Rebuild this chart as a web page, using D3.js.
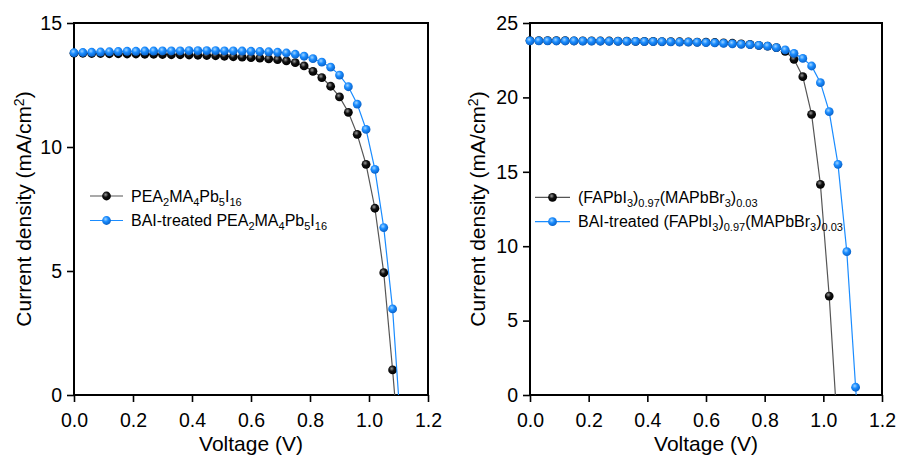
<!DOCTYPE html>
<meta charset="utf-8">
<head>
<style>
body { margin: 0; background: #fff; }
text { font-family: "Liberation Sans", Arial, sans-serif; fill: #000; }
.tick text { font-size: 19.5px; }
.axis-title { font-size: 21px; }
.legend text { font-size: 16px; }
</style>
</head>
<body>
<svg width="899" height="457"></svg>
<script src="https://d3js.org/d3.v7.min.js"></script>
<script>

// ---- left panel: PEA2MA4Pb5I16 ----
var voltLeft = [0, 0.03, 0.06, 0.09, 0.12, 0.15, 0.18, 0.21, 0.24, 0.27, 0.30, 0.33, 0.36, 0.39, 0.42, 0.45, 0.48, 0.51,
                0.54, 0.57, 0.60, 0.63, 0.66, 0.69, 0.72, 0.75, 0.78, 0.81, 0.84, 0.87, 0.90, 0.93, 0.96, 0.99, 1.02, 1.05, 1.08];
var jPea = [13.78, 13.78, 13.77, 13.77, 13.76, 13.76, 13.75, 13.75, 13.74, 13.74, 13.73, 13.72, 13.72, 13.71, 13.70, 13.69,
            13.68, 13.66, 13.64, 13.62, 13.60, 13.58, 13.55, 13.52, 13.47, 13.40, 13.27, 13.05, 12.80, 12.45, 12.02, 11.40,
            10.51, 9.30, 7.53, 4.93, 1.01];
var jPeaBai = [13.80, 13.81, 13.82, 13.83, 13.84, 13.85, 13.86, 13.86, 13.87, 13.87, 13.88, 13.88, 13.88, 13.89, 13.89, 13.89,
               13.89, 13.88, 13.88, 13.87, 13.86, 13.85, 13.84, 13.82, 13.79, 13.74, 13.66, 13.56, 13.42, 13.22, 12.90, 12.43,
               11.73, 10.71, 9.10, 6.75, 3.47];
var vocLeft = [1.087, 1.10];

// ---- right panel: (FAPbI3)0.97(MAPbBr3)0.03 ----
var voltRight = [0, 0.03, 0.06, 0.09, 0.12, 0.15, 0.18, 0.21, 0.24, 0.27, 0.30, 0.33, 0.36, 0.39, 0.42, 0.45, 0.48, 0.51,
                 0.54, 0.57, 0.60, 0.63, 0.66, 0.69, 0.72, 0.75, 0.78, 0.81, 0.84, 0.87, 0.90, 0.93, 0.96, 0.99, 1.02,
                 1.05, 1.08, 1.11];
var jFa = [23.82, 23.82, 23.81, 23.81, 23.81, 23.80, 23.80, 23.80, 23.79, 23.79, 23.78, 23.78, 23.77, 23.77, 23.76, 23.75,
           23.75, 23.74, 23.73, 23.72, 23.71, 23.69, 23.67, 23.64, 23.60, 23.56, 23.50, 23.45, 23.35, 23.10, 22.56, 21.39,
           18.86, 14.16, 6.65];
var jFaBai = [23.80, 23.80, 23.80, 23.79, 23.79, 23.79, 23.78, 23.78, 23.78, 23.77, 23.77, 23.76, 23.76, 23.75, 23.75, 23.74,
              23.73, 23.72, 23.71, 23.70, 23.68, 23.66, 23.63, 23.60, 23.57, 23.54, 23.50, 23.44, 23.35, 23.19, 22.96, 22.62,
              22.11, 20.99, 19.04, 15.50, 9.63, 0.52];
var vocRight = [1.041, 1.112];

var xTicks = [0, 0.2, 0.4, 0.6, 0.8, 1.0, 1.2];
var yTicksLeft = [0, 5, 10, 15];
var yTicksRight = [0, 5, 10, 15, 20, 25];

var legendLeft = [
  [["PEA"], ["2", "sub"], ["MA"], ["4", "sub"], ["Pb"], ["5", "sub"], ["I"], ["16", "sub"]],
  [["BAI-treated PEA"], ["2", "sub"], ["MA"], ["4", "sub"], ["Pb"], ["5", "sub"], ["I"], ["16", "sub"]]
];
var legendRight = [
  [["(FAPbI"], ["3", "sub"], [")"], ["0.97", "sub"], ["(MAPbBr"], ["3", "sub"], [")"], ["0.03", "sub"]],
  [["BAI-treated (FAPbI"], ["3", "sub"], [")"], ["0.97", "sub"], ["(MAPbBr"], ["3", "sub"], [")"], ["0.03", "sub"]]
];

var svg = d3.select("svg");
var defs = svg.append("defs");

function ball(id, hi, mid, edge) {
  var g = defs.append("radialGradient").attr("id", id)
      .attr("cx", "40%").attr("cy", "35%").attr("r", "65%");
  g.append("stop").attr("offset", "0%").attr("stop-color", hi);
  g.append("stop").attr("offset", "45%").attr("stop-color", mid);
  g.append("stop").attr("offset", "100%").attr("stop-color", edge);
}
ball("ballBlack", "#9a9a9a", "#111", "#000");
ball("ballBlue", "#9fd4ff", "#1a8cff", "#0a62c8");

var blackStyle = { line: "#555", fill: "url(#ballBlack)" };
var blueStyle = { line: "#1a8cff", fill: "url(#ballBlue)" };

function richText(sel, parts, size) {
  var shift = 0;
  parts.forEach(function(p) {
    var want = p[1] === "sub" ? 4 : (p[1] === "sup" ? -7 : 0);
    sel.append("tspan")
        .attr("dy", want - shift)
        .style("font-size", p[1] ? Math.round(size * 0.68) + "px" : null)
        .text(p[0]);
    shift = want;
  });
}

function panel(p) {
  var x = d3.scaleLinear().domain([0, 1.2]).range([p.x0, p.x1]);
  var y = d3.scaleLinear().domain([0, p.ymax]).range([p.y0, p.y1]);
  var g = svg.append("g");

  var xAxis = g.append("g").attr("transform", "translate(0," + p.y0 + ")")
      .call(d3.axisBottom(x).tickValues(xTicks).tickFormat(d3.format(".1f"))
        .tickSizeInner(7).tickSizeOuter(0).tickPadding(11));
  var yAxis = g.append("g").attr("transform", "translate(" + p.x0 + ",0)")
      .call(d3.axisLeft(y).tickValues(p.yticks).tickSizeInner(7).tickSizeOuter(0).tickPadding(5));
  [xAxis, yAxis].forEach(function(a) {
    a.attr("font-family", null).attr("font-size", null);
    a.select(".domain").remove();
    a.selectAll(".tick line").attr("stroke", "#000").attr("stroke-width", 1.6);
  });

  g.append("rect")
      .attr("x", p.x0).attr("y", p.y1)
      .attr("width", p.x1 - p.x0).attr("height", p.y0 - p.y1)
      .attr("fill", "none").attr("stroke", "#000").attr("stroke-width", 2);

  var line = d3.line().x(function(d) { return x(d[0]); }).y(function(d) { return y(d[1]); });

  p.series.forEach(function(s) {
    var pts = s.j.map(function(j, i) { return [s.v[i], j]; });
    g.append("path")
        .datum(pts.concat([[s.voc, 0]]))
        .attr("d", line)
        .attr("fill", "none")
        .attr("stroke", s.style.line)
        .attr("stroke-width", 1.2);
    g.selectAll(null).data(pts).enter().append("circle")
        .attr("cx", function(d) { return x(d[0]); })
        .attr("cy", function(d) { return y(d[1]); })
        .attr("r", 4.4)
        .attr("fill", s.style.fill);
  });

  g.append("text").attr("class", "axis-title")
      .attr("x", (p.x0 + p.x1) / 2).attr("y", 451)
      .attr("text-anchor", "middle")
      .text("Voltage (V)");

  var yt = g.append("text").attr("class", "axis-title")
      .attr("text-anchor", "middle")
      .attr("transform", "translate(" + p.ylabX + "," + ((p.y0 + p.y1) / 2) + ") rotate(-90)");
  richText(yt, [["Current density (mA/cm"], ["2", "sup"], [")"]], 21);

  var lg = g.append("g").attr("class", "legend");
  p.series.forEach(function(s, i) {
    var ly = p.leg.y + i * p.leg.dy;
    lg.append("line")
        .attr("x1", p.leg.x).attr("x2", p.leg.x + p.leg.len)
        .attr("y1", ly).attr("y2", ly)
        .attr("stroke", s.style.line).attr("stroke-width", 1.2);
    lg.append("circle")
        .attr("cx", p.leg.x + p.leg.len / 2).attr("cy", ly)
        .attr("r", 4.4).attr("fill", s.style.fill);
    var t = lg.append("text").attr("x", p.leg.x + p.leg.len + 8).attr("y", ly + 5.5);
    richText(t, p.leg.labels[i], 16);
  });
}

panel({
  x0: 74, x1: 428, y0: 395, y1: 23, ymax: 15, yticks: yTicksLeft, ylabX: 31,
  series: [
    { v: voltLeft, j: jPea, voc: vocLeft[0], style: blackStyle },
    { v: voltLeft, j: jPeaBai, voc: vocLeft[1], style: blueStyle }
  ],
  leg: { x: 90, y: 196, dy: 24.5, len: 33, labels: legendLeft }
});

panel({
  x0: 530, x1: 882, y0: 395, y1: 23, ymax: 25, yticks: yTicksRight, ylabX: 485,
  series: [
    { v: voltRight, j: jFa, voc: vocRight[0], style: blackStyle },
    { v: voltRight, j: jFaBai, voc: vocRight[1], style: blueStyle }
  ],
  leg: { x: 535, y: 197.3, dy: 24.4, len: 35, labels: legendRight }
});

</script>
</body>
</html>
